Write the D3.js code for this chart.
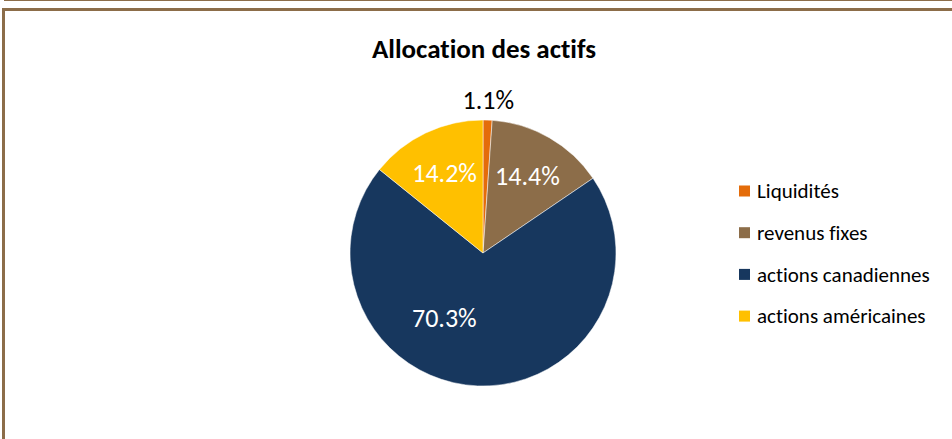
<!DOCTYPE html>
<html>
<head>
<meta charset="utf-8">
<script src="https://cdn.jsdelivr.net/npm/d3@7"></script>
<style>
  body { margin: 0; background: #fff; }
  svg { display: block; font-family: Carlito, Calibri, "Open Sans", sans-serif; font-variant-ligatures: none; }
</style>
</head>
<body>
<div id="chart"></div>
<script>
// data
let categories = ["Liquidités", "revenus fixes", "actions canadiennes", "actions américaines"];
let values = [1.1, 14.4, 70.3, 14.2];
let colors = ["#E46C0A", "#8C6D49", "#17375E", "#FFC000"];
let chartTitle = "Allocation des actifs";

let width = 952, height = 439;
let cx = 483, cy = 253, radius = 133;

let svg = d3.select("#chart")
    .append("svg")
    .attr("width", width)
    .attr("height", height);

// frame
svg.append("line")
    .attr("x1", 4).attr("x2", width)
    .attr("y1", 0.5).attr("y2", 0.5)
    .attr("stroke", "#8C6D49").attr("stroke-width", 1);
svg.append("path")
    .attr("d", "M3.5," + height + "V9.5H" + width)
    .attr("fill", "none")
    .attr("stroke", "#8C6D49")
    .attr("stroke-width", 3);

// title
svg.append("text")
    .attr("x", 484)
    .attr("y", 58)
    .attr("text-anchor", "middle")
    .attr("font-weight", "bold")
    .attr("font-size", 27)
    .text(chartTitle);

let pie = d3.pie().sort(null).value(d => d);
let arcs = pie(values);
let arc = d3.arc().innerRadius(0).outerRadius(radius);
let labelArc = d3.arc().innerRadius(radius * 0.67).outerRadius(radius * 0.67);
let outsideArc = d3.arc().innerRadius(radius + 20).outerRadius(radius + 20);

let g = svg.append("g")
    .attr("transform", "translate(" + cx + "," + cy + ")");

g.selectAll("path.slice")
    .data(arcs)
    .enter()
    .append("path")
    .attr("class", "slice")
    .attr("d", arc)
    .attr("fill", (d, i) => colors[i])
    .attr("stroke", "#fff")
    .attr("stroke-width", 0.5);

// data labels: small slice outside, others inside
g.selectAll("text.lbl")
    .data(arcs)
    .enter()
    .append("text")
    .attr("class", "lbl")
    .attr("transform", function(d, i) {
        let p;
        if (d.value < 5) p = outsideArc.centroid(d);
        else p = labelArc.centroid(d);
        // the big slice label sits left of its centroid, as in the source
        if (d.value > 50) { p[0] -= 35; p[1] -= 24; }
        return "translate(" + p[0] + "," + p[1] + ")";
    })
    .attr("text-anchor", "middle")
    .attr("dy", "0.35em")
    .attr("font-size", 26)
    .attr("fill", d => d.value < 5 ? "#000" : "#fff")
    .text(d => d.value.toFixed(1) + "%");

// legend
let legend = svg.append("g")
    .attr("transform", "translate(739,191)");

let item = legend.selectAll("g")
    .data(categories)
    .enter()
    .append("g")
    .attr("transform", (d, i) => "translate(0," + (i * 41.7) + ")");

item.append("rect")
    .attr("x", 0).attr("y", -5.5)
    .attr("width", 11).attr("height", 11)
    .attr("fill", (d, i) => colors[i]);

item.append("text")
    .attr("x", 18)
    .attr("dy", "0.35em")
    .attr("font-size", 21)
    .text(d => d);
</script>
</body>
</html>
